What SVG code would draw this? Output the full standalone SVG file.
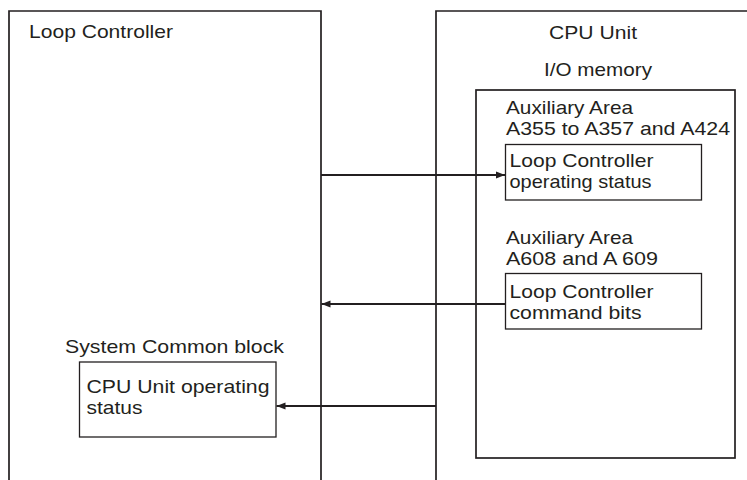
<svg xmlns="http://www.w3.org/2000/svg" width="747" height="480" viewBox="0 0 747 480">
<style>
  .outer { fill: none; stroke: #231f20; stroke-width: 1.7; }
  .inner { fill: #ffffff; stroke: #231f20; stroke-width: 1.3; }
  .conn { fill: none; stroke: #231f20; stroke-width: 1.8; }
  text { font-family: "Liberation Sans", Arial, sans-serif; font-size: 19px; fill: #231f20; }
</style>
<defs>
  <marker id="arrow" markerUnits="userSpaceOnUse" markerWidth="10" markerHeight="8" refX="9" refY="4" orient="auto">
    <path d="M0,0.5 L9,4 L0,7.5 z" fill="#231f20"/>
  </marker>
</defs>
<rect width="747" height="480" fill="#ffffff"/>

<g id="loop-controller">
  <path class="outer" d="M9,482 V11 H321 V482"/>
  <text x="29" y="37.5" textLength="144" lengthAdjust="spacingAndGlyphs">Loop Controller</text>
</g>

<g id="cpu-unit">
  <path class="outer" d="M436,482 V11 H749"/>
  <text x="549" y="38.5" textLength="88" lengthAdjust="spacingAndGlyphs">CPU Unit</text>
  <text x="544" y="76" textLength="108" lengthAdjust="spacingAndGlyphs">I/O memory</text>
</g>

<g id="io-memory">
  <rect class="outer" x="476" y="90" width="259" height="368"/>
  <text x="506" y="113.5" textLength="127" lengthAdjust="spacingAndGlyphs">Auxiliary Area</text>
  <text x="506" y="134.5" textLength="224" lengthAdjust="spacingAndGlyphs">A355 to A357 and A424</text>
  <text x="506" y="244" textLength="127" lengthAdjust="spacingAndGlyphs">Auxiliary Area</text>
  <text x="506" y="265" textLength="152" lengthAdjust="spacingAndGlyphs">A608 and A 609</text>
</g>

<g id="lc-operating-status">
  <rect class="inner" x="505.5" y="144.5" width="196" height="55.5"/>
  <text x="509.5" y="167" textLength="144" lengthAdjust="spacingAndGlyphs">Loop Controller</text>
  <text x="509.5" y="188" textLength="142" lengthAdjust="spacingAndGlyphs">operating status</text>
</g>

<g id="lc-command-bits">
  <rect class="inner" x="505.5" y="273.5" width="196" height="55.5"/>
  <text x="509.5" y="298" textLength="144" lengthAdjust="spacingAndGlyphs">Loop Controller</text>
  <text x="509.5" y="319" textLength="132" lengthAdjust="spacingAndGlyphs">command bits</text>
</g>

<g id="system-common-block">
  <text x="65" y="353" textLength="219" lengthAdjust="spacingAndGlyphs">System Common block</text>
  <rect class="inner" x="79.5" y="362" width="196.5" height="75"/>
  <text x="86.5" y="393" textLength="183" lengthAdjust="spacingAndGlyphs">CPU Unit operating</text>
  <text x="86.5" y="414" textLength="56" lengthAdjust="spacingAndGlyphs">status</text>
</g>

<g id="connectors">
  <line class="conn" x1="321" y1="175" x2="505" y2="175" marker-end="url(#arrow)"/>
  <line class="conn" x1="505.5" y1="304" x2="321.5" y2="304" marker-end="url(#arrow)"/>
  <line class="conn" x1="436" y1="406" x2="276.5" y2="406" marker-end="url(#arrow)"/>
</g>
</svg>
